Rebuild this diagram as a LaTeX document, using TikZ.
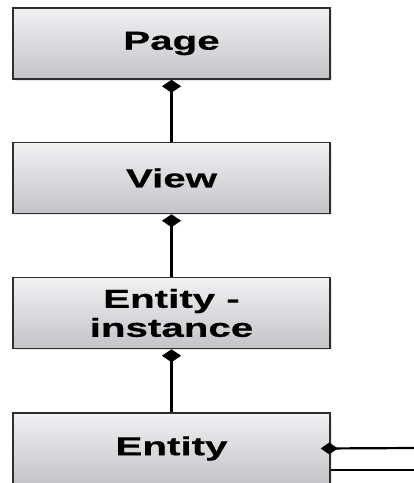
\documentclass[tikz,border=0pt]{standalone}
\usepackage{fontspec}
\newfontfamily\boxfont[FakeStretch=1.55,FakeBold=0.6]{Liberation Sans}
\usetikzlibrary{arrows.meta,shadows}
\definecolor{boxtop}{HTML}{F1F0F3}
\definecolor{boxbot}{HTML}{C4C4C8}
\definecolor{edge}{HTML}{2E2E2E}
\begin{document}
\begin{tikzpicture}[x=1pt,y=1pt,
  classbox/.style={draw=edge, line width=1.5pt, rectangle, top color=boxtop, bottom color=boxbot,
    minimum width=317pt, minimum height=71pt, inner sep=0pt,
    drop shadow={opacity=0.2, shadow xshift=1.5pt, shadow yshift=-1.5pt},
    font=\boxfont\bfseries\fontsize{26}{29}\selectfont, align=center, text=black},
  comp/.style={line width=2.2pt, draw=black, -{Diamond[length=13pt,width=19pt]}},
  comph/.style={line width=2.2pt, draw=black, -{Diamond[length=17pt,width=12pt]}},
  plain/.style={line width=2.2pt, draw=black}]
\useasboundingbox (0,0) rectangle (414,-483);
\node[classbox] (page) at (171.5,-43.5) {Page};
\node[classbox] (view) at (171.5,-178) {View};
\node[classbox] (inst) at (171.5,-313) {Entity -\\instance};
\node[classbox] (ent) at (171.5,-448.5) {Entity};
\coordinate (r1) at (414,-448);
\coordinate (r2) at (414,-470);
\draw[comp] (view.north) -- (page.south);
\draw[comp] (inst.north) -- (view.south);
\draw[comp] (ent.north) -- (inst.south);
\draw[comph] (r1) -- ([xshift=-10pt]ent.east);
\draw[plain] (ent.east |- r2) -- (r2);
\end{tikzpicture}
\end{document}
